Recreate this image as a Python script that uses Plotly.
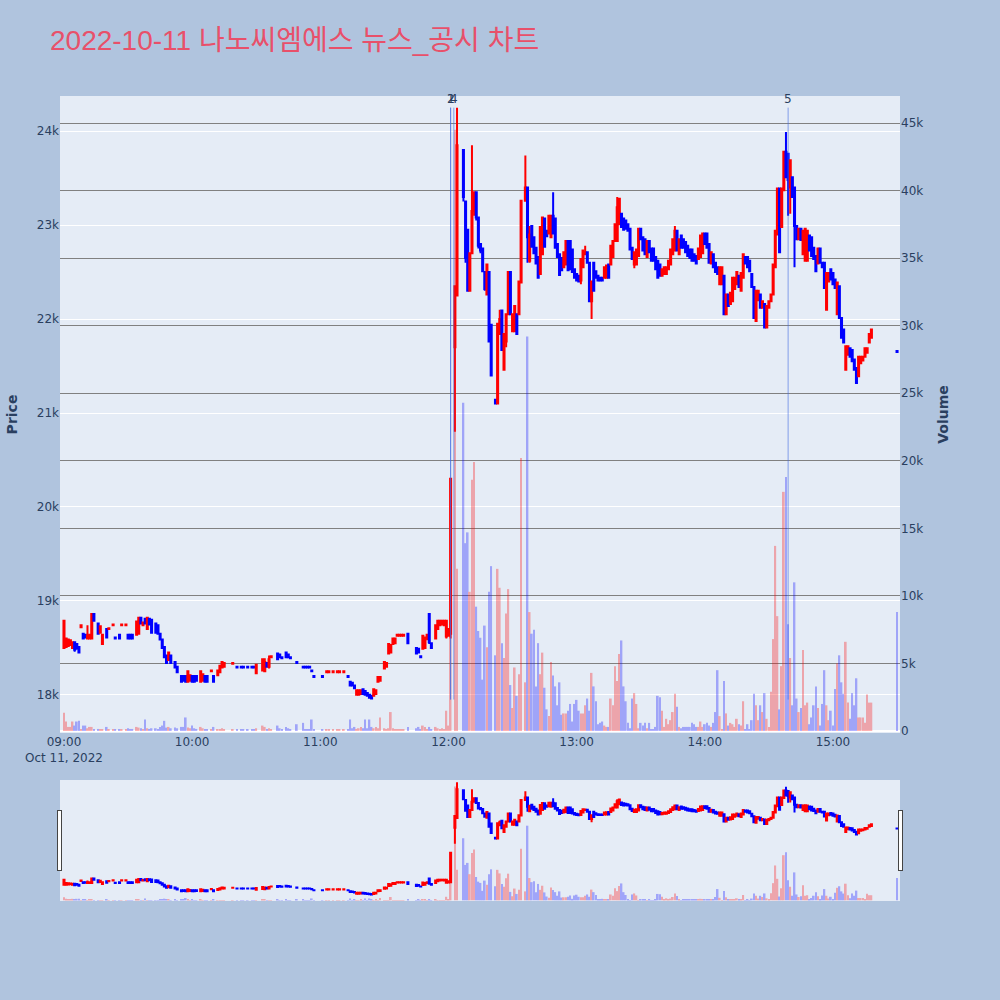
import pandas as pd
import plotly.graph_objects as go
from plotly.subplots import make_subplots

TITLE = "2022-10-11 나노씨엠에스 뉴스_공시 차트"
DAY = "2022-10-11"

# ---- minute candles (minutes after 09:00) ----
am_min = [0, 1, 2, 3, 4, 5, 6, 7, 8, 9,
          10, 11, 12, 13, 14, 16, 17, 18, 20, 21,
          23, 24, 26, 27, 29, 30, 31, 32, 34, 35,
          36, 37, 38, 39, 40, 41, 43, 44, 45, 46,
          47, 48, 49, 50, 52, 53, 55, 56, 57, 58,
          59, 60, 61, 62, 64, 65, 66, 67, 69, 70,
          72, 73, 74, 75, 79, 81, 83, 84, 86, 88,
          89, 90, 93, 94, 95, 96, 97, 100, 101, 102,
          104, 105, 106, 109, 112, 113, 114, 115, 116, 117,
          121, 123, 124, 126, 128, 129, 131, 133, 134, 135,
          136, 137, 138, 139, 140, 141, 142, 143, 144, 145,
          146, 147, 148, 150, 151, 152, 153, 154, 155, 156,
          157, 158, 159, 161, 165, 166, 167, 168, 169, 170,
          171, 172, 174, 175, 176, 177, 178, 179, 180, 181, 183, 184]
am_open = [18500, 18510, 18520, 18530, 18500, 18560, 18540, 18510, 18720, 18650,
           18640, 18600, 18600, 18600, 18860, 18760, 18660, 18540, 18700, 18700,
           18740, 18610, 18640, 18740, 18740, 18640, 18640, 18640, 18640, 18650,
           18820, 18740, 18810, 18700, 18810, 18800, 18760, 18740, 18650, 18590,
           18510, 18420, 18370, 18420, 18350, 18300, 18200, 18200, 18200, 18140,
           18150, 18200, 18200, 18200, 18140, 18150, 18200, 18200, 18250, 18200,
           18210, 18240, 18290, 18300, 18330, 18300, 18300, 18300, 18300, 18300,
           18300, 18230, 18260, 18250, 18340, 18300, 18400, 18440, 18430, 18400,
           18450, 18430, 18400, 18350, 18300, 18300, 18300, 18300, 18260, 18200,
           18200, 18240, 18240, 18240, 18240, 18240, 18240, 18200, 18140, 18130,
           18100, 18000, 18000, 18010, 18060, 18040, 18020, 18000, 17990, 17990,
           18010, 18140, 18150, 18280, 18300, 18440, 18450, 18540, 18550, 18630,
           18630, 18630, 18630, 18650, 18500, 18490, 18410, 18490, 18500, 18600,
           18860, 18550, 18600, 18700, 18740, 18750, 18740, 18620, 18630, 18650, 21700, 22250]
am_high = [18800, 18600, 18600, 18590, 18560, 18560, 18550, 18510, 18740, 18650,
           18650, 18740, 18650, 18860, 18860, 18760, 18740, 18640, 18710, 18710,
           18750, 18610, 18650, 18750, 18750, 18650, 18640, 18640, 18780, 18820,
           18820, 18780, 18810, 18820, 18810, 18800, 18760, 18740, 18650, 18590,
           18510, 18420, 18450, 18420, 18350, 18300, 18200, 18200, 18200, 18250,
           18210, 18200, 18200, 18200, 18260, 18220, 18200, 18200, 18260, 18200,
           18260, 18310, 18350, 18350, 18340, 18300, 18300, 18300, 18300, 18300,
           18300, 18320, 18380, 18390, 18340, 18420, 18410, 18440, 18430, 18400,
           18450, 18430, 18400, 18350, 18300, 18300, 18300, 18300, 18260, 18200,
           18200, 18250, 18250, 18250, 18250, 18250, 18250, 18200, 18140, 18130,
           18100, 18050, 18060, 18050, 18060, 18040, 18020, 18000, 17990, 18060,
           18060, 18190, 18190, 18350, 18350, 18540, 18540, 18600, 18600, 18640,
           18640, 18640, 18640, 18650, 18500, 18490, 18410, 18630, 18620, 18650,
           18860, 18550, 18740, 18800, 18800, 18800, 18790, 18800, 18700, 20300, 22350, 24250]
am_low = [18500, 18500, 18510, 18520, 18490, 18460, 18480, 18440, 18720, 18600,
          18600, 18600, 18600, 18600, 18790, 18640, 18660, 18540, 18600, 18700,
          18740, 18600, 18600, 18740, 18740, 18600, 18600, 18600, 18640, 18650,
          18750, 18740, 18760, 18700, 18750, 18660, 18650, 18640, 18590, 18500,
          18400, 18330, 18370, 18340, 18290, 18240, 18140, 18140, 18140, 18130,
          18140, 18140, 18140, 18150, 18130, 18140, 18140, 18140, 18250, 18140,
          18210, 18240, 18290, 18290, 18330, 18290, 18290, 18290, 18290, 18290,
          18290, 18230, 18260, 18250, 18290, 18280, 18400, 18380, 18390, 18390,
          18400, 18400, 18390, 18340, 18290, 18290, 18290, 18290, 18250, 18190,
          18190, 18240, 18240, 18240, 18240, 18240, 18240, 18190, 18100, 18090,
          18060, 18000, 18000, 18000, 18000, 17990, 17980, 17960, 17950, 17990,
          18000, 18140, 18150, 18280, 18290, 18440, 18450, 18540, 18550, 18630,
          18630, 18630, 18630, 18540, 18440, 18440, 18400, 18490, 18490, 18580,
          18540, 18490, 18600, 18700, 18740, 18740, 18740, 18600, 18620, 18600, 20800, 22250]
am_close = [18790, 18600, 18590, 18580, 18560, 18480, 18500, 18450, 18740, 18600,
            18610, 18630, 18640, 18860, 18790, 18650, 18730, 18640, 18610, 18710,
            18750, 18600, 18600, 18750, 18750, 18600, 18600, 18600, 18780, 18820,
            18760, 18770, 18760, 18820, 18750, 18660, 18660, 18650, 18590, 18500,
            18400, 18340, 18450, 18340, 18290, 18240, 18140, 18150, 18140, 18250,
            18210, 18140, 18140, 18150, 18250, 18220, 18140, 18140, 18260, 18140,
            18260, 18310, 18350, 18340, 18340, 18290, 18290, 18290, 18290, 18290,
            18290, 18320, 18380, 18350, 18300, 18380, 18410, 18380, 18400, 18390,
            18400, 18400, 18390, 18340, 18290, 18290, 18290, 18290, 18250, 18190,
            18190, 18250, 18250, 18250, 18250, 18250, 18250, 18190, 18100, 18100,
            18070, 18050, 18050, 18050, 18010, 18000, 17990, 17970, 17960, 18060,
            18050, 18190, 18190, 18350, 18340, 18540, 18530, 18600, 18600, 18640,
            18640, 18640, 18640, 18550, 18440, 18450, 18400, 18630, 18600, 18640,
            18560, 18500, 18740, 18790, 18790, 18790, 18790, 18790, 18700, 20300, 22350, 23850]
am_vol = [1350, 700, 300, 300, 700, 400, 700, 750, 100, 400,
          400, 200, 300, 300, 150, 150, 100, 100, 300, 100,
          100, 100, 100, 100, 100, 200, 150, 150, 300, 250,
          200, 100, 850, 200, 150, 200, 200, 150, 300, 400,
          750, 250, 300, 200, 250, 200, 300, 300, 1000, 250,
          200, 400, 200, 150, 300, 200, 150, 150, 100, 300,
          100, 150, 200, 100, 100, 100, 100, 100, 100, 100,
          100, 200, 400, 300, 150, 200, 100, 400, 200, 100,
          300, 200, 100, 500, 600, 100, 100, 100, 850, 100,
          100, 100, 100, 100, 100, 100, 100, 100, 850, 200,
          300, 150, 200, 300, 200, 850, 200, 850, 300, 200,
          300, 200, 1000, 200, 100, 200, 1400, 200, 100, 100,
          100, 100, 100, 300, 200, 300, 100, 400, 300, 100,
          300, 100, 300, 200, 150, 200, 100, 1500, 400, 9000, 44500, 12000]

pm_min = [187, 188, 189, 190, 191, 192, 193, 194, 195, 196,
          197, 198, 199, 200, 202, 203, 204, 205, 206, 207,
          208, 209, 210, 211, 212, 213, 214, 216, 217, 218,
          219, 220, 221, 222, 223, 224, 225, 226, 227, 228,
          229, 230, 231, 232, 233, 234, 235, 236,
          237, 238, 239, 240, 241, 242, 243, 244, 245, 246,
          247, 248, 249, 250, 251, 252, 253, 254, 255, 256,
          257, 258, 259, 260, 261, 262, 263, 264, 265, 266,
          267, 268, 269, 270, 271, 272, 273, 274, 275, 276,
          277, 278, 279, 280, 281, 282, 283, 284, 285, 286,
          287, 288, 289, 290, 291, 292, 293, 294, 295, 296, 297,
          298, 299, 300, 301, 302, 303, 304, 305, 306, 307,
          308, 309, 310, 311, 312, 313, 314, 315, 316, 317,
          318, 319, 320, 321, 322, 323, 324, 325, 326, 327,
          328, 329, 330, 331, 332, 333, 334, 335, 336, 337,
          338, 339, 340, 341, 342, 343, 344, 345, 346, 347,
          348, 349, 350, 351, 352, 353, 354, 355, 356, 357,
          358, 359, 360, 361, 362, 363, 364, 365, 366, 367,
          368, 369, 370, 371, 372, 373, 374, 375, 376, 377, 378,
          390]
pm_open = [23800, 23250, 22950, 22300, 22700, 23150, 23350, 23080, 22800, 22750,
           22500, 22260, 22500, 21940, 21140, 21100, 21840, 22090, 21460, 21760,
           22050, 22500, 21870, 21870, 22050, 22050, 22390, 23260, 23400, 22620,
           22990, 22870, 22760, 22660, 22480, 22690, 23070, 22940, 22910, 22870,
           23100, 23070, 22800, 22690, 22650, 22550, 22580, 22830,
           22830, 22740, 22530, 22480, 22460, 22410, 22550, 22690, 22710, 22600,
           22190, 22600, 22510, 22460, 22440, 22440, 22440, 22440, 22580, 22580,
           22660, 22830, 22830, 23010, 23120, 23070, 23050, 23010, 22960, 22760,
           22580, 22580, 22670, 22960, 22870, 22850, 22660, 22830, 22750, 22750,
           22660, 22620, 22580, 22460, 22480, 22480, 22530, 22580, 22690, 22730,
           22940, 22690, 22890, 22850, 22820, 22780, 22740, 22740, 22690, 22670, 22640,
           22660, 22700, 22910, 22910, 22800, 22590, 22690, 22600, 22550, 22370,
           22370, 22460, 22050, 22260, 22160, 22190, 22320, 22370, 22460, 22300,
           22440, 22660, 22660, 22620, 22480, 22340, 21980, 22200, 22260, 22120,
           22160, 21910, 22120, 22190, 22260, 22550, 22900, 23390, 22980, 23370,
           23780, 23760, 23400, 23510, 23400, 22990, 22850, 22960, 22690, 22620,
           22620, 22890, 22870, 22760, 22670, 22590, 22750, 22600, 22600, 22100,
           22400, 22530, 22490, 22420, 22050, 22350, 22010, 21890, 21460, 21620,
           21690, 21670, 21570, 21480, 21390, 21530, 21560, 21600, 21640, 21750, 21800,
           21660]
pm_high = [23800, 23250, 22950, 22700, 23850, 23350, 23350, 23080, 22800, 22750,
           22500, 22580, 22500, 21940, 21140, 21960, 22100, 22100, 21840, 22050,
           22500, 22500, 22050, 22140, 22050, 22400, 23260, 23740, 23400, 22990,
           22990, 22870, 22760, 22660, 22980, 23080, 23070, 22940, 23100, 23100,
           23350, 23070, 22800, 22690, 22650, 22710, 22830, 22830,
           22830, 22740, 22530, 22480, 22460, 22640, 22730, 22780, 22710, 22600,
           22400, 22600, 22510, 22460, 22440, 22440, 22550, 22570, 22580, 22780,
           22830, 23010, 23300, 23280, 23120, 23070, 23050, 23010, 22960, 22760,
           22710, 22740, 22960, 22960, 22870, 22850, 22830, 22830, 22750, 22750,
           22660, 22620, 22580, 22530, 22550, 22550, 22620, 22740, 22850, 22990,
           22940, 22850, 22890, 22850, 22820, 22780, 22740, 22740, 22690, 22670, 22750,
           22890, 22910, 22910, 22910, 22800, 22710, 22690, 22600, 22550, 22550,
           22550, 22460, 22260, 22260, 22280, 22440, 22440, 22500, 22460, 22490,
           22690, 22660, 22660, 22620, 22480, 22340, 22300, 22300, 22260, 22190,
           22160, 22140, 22190, 22260, 22580, 22940, 23390, 23390, 23390, 23780,
           23990, 23760, 23690, 23510, 23400, 22990, 22960, 22960, 22940, 22960,
           22940, 22890, 22870, 22760, 22670, 22750, 22750, 22600, 22600, 22490,
           22490, 22530, 22490, 22420, 22390, 22350, 22010, 21890, 21710, 21710,
           21690, 21670, 21570, 21480, 21600, 21600, 21600, 21690, 21690, 21840, 21890,
           21660]
pm_low = [23250, 22600, 22300, 22300, 22700, 23100, 23050, 22750, 22700, 22500,
          22300, 22250, 21750, 21390, 21090, 21090, 21840, 21660, 21460, 21700,
          22050, 22050, 21870, 21870, 21830, 22050, 22390, 23260, 22600, 22600,
          22760, 22690, 22580, 22440, 22480, 22690, 22760, 22870, 22910, 22870,
          22900, 22750, 22660, 22460, 22510, 22550, 22580, 22510,
          22530, 22500, 22440, 22410, 22390, 22370, 22550, 22690, 22600, 22190,
          22000, 22300, 22440, 22410, 22410, 22410, 22440, 22440, 22440, 22580,
          22660, 22830, 22830, 23010, 22980, 22950, 22960, 22940, 22740, 22640,
          22540, 22580, 22670, 22850, 22730, 22690, 22660, 22710, 22620, 22620,
          22530, 22440, 22460, 22460, 22480, 22480, 22530, 22580, 22690, 22730,
          22730, 22690, 22760, 22760, 22710, 22670, 22650, 22620, 22620, 22590, 22640,
          22660, 22700, 22800, 22760, 22600, 22590, 22550, 22500, 22480, 22370,
          22370, 22050, 22050, 22140, 22160, 22190, 22320, 22370, 22340, 22300,
          22440, 22590, 22550, 22510, 22340, 22010, 21980, 22200, 22120, 22120,
          21910, 21910, 22120, 22190, 22260, 22550, 22900, 22710, 22980, 23370,
          23510, 23100, 23120, 23300, 22550, 22850, 22850, 22840, 22690, 22620,
          22620, 22730, 22670, 22640, 22510, 22590, 22600, 22550, 22330, 22100,
          22400, 22420, 22370, 22330, 22050, 22010, 21800, 21750, 21460, 21620,
          21600, 21550, 21460, 21320, 21390, 21530, 21560, 21600, 21640, 21750, 21800,
          21650]
pm_close = [23300, 22650, 22300, 22700, 23150, 23350, 23080, 22780, 22730, 22510,
            22320, 22580, 21760, 21400, 21100, 21950, 22000, 21670, 21840, 22050,
            22500, 22050, 22050, 22140, 21840, 22400, 23260, 23400, 22870, 22900,
            22770, 22700, 22590, 22440, 22980, 23080, 22770, 22880, 23100, 23100,
            22910, 22760, 22660, 22470, 22520, 22710, 22830, 22520,
            22530, 22500, 22440, 22410, 22400, 22640, 22730, 22710, 22600, 22190,
            22400, 22300, 22440, 22410, 22410, 22410, 22550, 22570, 22440, 22780,
            22830, 23010, 23190, 23280, 22980, 22950, 22960, 22940, 22740, 22640,
            22710, 22740, 22960, 22850, 22730, 22690, 22830, 22710, 22620, 22620,
            22530, 22440, 22460, 22530, 22550, 22550, 22620, 22740, 22850, 22940,
            22730, 22850, 22760, 22760, 22710, 22670, 22650, 22620, 22620, 22590, 22750,
            22890, 22910, 22800, 22760, 22600, 22710, 22550, 22500, 22480, 22550,
            22550, 22050, 22260, 22140, 22280, 22440, 22440, 22500, 22340, 22490,
            22690, 22590, 22550, 22510, 22340, 22010, 22300, 22300, 22120, 22190,
            21910, 22140, 22190, 22260, 22580, 22940, 23390, 22710, 23390, 23780,
            23510, 23480, 23690, 23300, 22990, 22850, 22960, 22840, 22940, 22960,
            22940, 22730, 22670, 22640, 22510, 22750, 22600, 22550, 22330, 22490,
            22490, 22420, 22370, 22330, 22390, 22010, 21800, 21750, 21710, 21710,
            21600, 21550, 21460, 21320, 21600, 21600, 21600, 21690, 21690, 21840, 21890,
            21650]
pm_vol = [24300, 13900, 14700, 10300, 18600, 19900, 9200, 7400, 6900, 3800,
          7800, 6200, 10300, 12200, 5600, 12000, 10600, 6500, 5400, 8700,
          10500, 3400, 1700, 4700, 2600, 4200, 20200, 3600, 29200, 8800,
          7200, 7500, 3300, 6500, 4200, 5800, 3200, 1600, 1100, 5100,
          4100, 3300, 1900, 3600, 1200, 1300, 1300, 1500,
          2000, 700, 2000, 2300, 1500, 1300, 1300, 1900, 2400, 1500,
          4300, 3300, 2200, 500, 600, 700, 400, 300, 300, 2400,
          1900, 4800, 3700, 5700, 6700, 3300, 2200, 600, 200, 2400,
          2800, 2000, 200, 600, 400, 600, 200, 600, 100, 100,
          300, 2600, 2500, 1500, 300, 900, 500, 800, 1400, 2750,
          1800, 300, 200, 300, 300, 300, 300, 600, 500, 300, 300,
          700, 300, 500, 600, 400, 300, 600, 1400, 4500, 1100,
          100, 3700, 1300, 400, 600, 500, 300, 900, 500, 400,
          2200, 100, 500, 100, 800, 2750, 1900, 800, 1900, 1400,
          2800, 900, 300, 2900, 6800, 13700, 8500, 1600, 4800, 17700,
          18800, 7900, 5400, 1900, 11000, 2400, 1400, 1700, 6000, 1900,
          2100, 500, 1000, 1900, 3300, 1700, 400, 2000, 4500, 1900,
          800, 1500, 400, 3100, 5000, 5600, 3600, 2750, 6600, 2100,
          900, 2800, 1900, 3900, 1000, 1000, 1000, 600, 2700, 2100, 2100,
          8800]

# news disclosures: label and time
news_labels = ["1", "2", "4", "5"]
news_times = ["12:01:00", "12:01:00", "12:02:30", "14:39:00"]

minutes = am_min + pm_min
opens = am_open + pm_open
highs = am_high + pm_high
lows = am_low + pm_low
closes = am_close + pm_close
vols = am_vol + pm_vol

base = pd.Timestamp(DAY + " 09:00")
times = [base + pd.Timedelta(minutes=m) for m in minutes]
vol_colors = ["red" if c >= o else "blue" for o, c in zip(opens, closes)]

fig = make_subplots(specs=[[{"secondary_y": True}]])
fig.add_trace(go.Candlestick(
    x=times, open=opens, high=highs, low=lows, close=closes,
    increasing=dict(line=dict(color="red"), fillcolor="red"),
    decreasing=dict(line=dict(color="blue"), fillcolor="blue"),
    showlegend=False, name="Price"), secondary_y=False)
fig.add_trace(go.Bar(
    x=times, y=vols, marker=dict(color=vol_colors, line=dict(width=0)),
    opacity=0.3, showlegend=False, name="Volume"), secondary_y=True)

day_high = max(highs)
day_low = min(lows)
for lab, t in zip(news_labels, news_times):
    xt = pd.Timestamp(DAY + " " + t)
    fig.add_shape(type="line", x0=xt, x1=xt, y0=day_low, y1=day_high,
                  xref="x", yref="y",
                  line=dict(color="rgba(65,105,225,0.6)", width=1))
    fig.add_annotation(x=xt, y=day_high, xref="x", yref="y", text=lab,
                       showarrow=False, yanchor="bottom",
                       font=dict(size=12, color="#2a3f5f"))

x_range = [DAY + " 08:58:08", DAY + " 15:31:23"]
fig.update_layout(
    width=1000, height=1000,
    paper_bgcolor="#B0C4DE",
    plot_bgcolor="#E5ECF6",
    font=dict(family="Verdana, DejaVu Sans, sans-serif", size=12, color="#2a3f5f"),
    title=dict(text=TITLE, x=0.05, y=0.96, yanchor="middle",
               font=dict(family="Liberation Sans, Noto Sans CJK KR, sans-serif",
                         size=28, color="#E8506A")),
    margin=dict(l=60, r=100, t=96, b=100),
    bargap=0.2,
    xaxis=dict(domain=[0, 1], range=x_range,
               rangeslider=dict(visible=True, bgcolor="#E5ECF6", range=x_range)),
)
fig.update_yaxes(title_text="<b>Price</b>", title_font=dict(size=14),
                 range=[17594, 24374], secondary_y=False)
fig.update_yaxes(title_text="<b>Volume</b>", title_font=dict(size=14),
                 range=[-150, 47000], gridcolor="grey", gridwidth=1,
                 secondary_y=True)

fig.write_html("out.html",
               config={"displayModeBar": False},
               post_script="document.body.style.margin='0';"
                           "document.body.style.overflow='hidden';")
